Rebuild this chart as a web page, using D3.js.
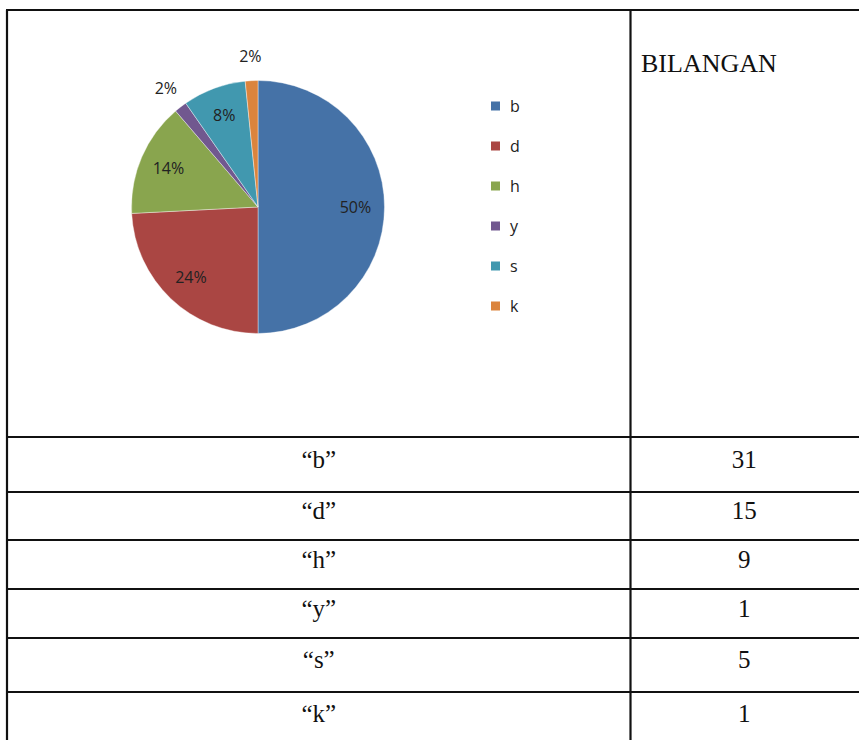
<!DOCTYPE html>
<html>
<head>
<meta charset="utf-8">
<script src="https://cdn.jsdelivr.net/npm/d3@7"></script>
<style>
  html, body { margin: 0; padding: 0; background: #fff; }
  svg { display: block; }
</style>
</head>
<body>
<div id="chart"></div>
<script>
// data
const categories = ['b', 'd', 'h', 'y', 's', 'k'];
const counts = [31, 15, 9, 1, 5, 1];
const pctLabels = ['50%', '24%', '14%', '2%', '8%', '2%'];
const headerLabel = 'BILANGAN';
const colors = ['#4572A7', '#AA4643', '#89A54E', '#71588F', '#4198AF', '#DB843D'];

const W = 859, H = 740;
const svg = d3.select('#chart').append('svg')
    .attr('width', W)
    .attr('height', H);

// table layout
const tableLeft = 7, tableTop = 10, colSplit = 630.5, tableRight = 862;
const rowEdges = [437, 492, 540, 589, 638, 692, 746];

const grid = svg.append('g').attr('stroke', '#111').attr('stroke-width', 2.2);
grid.append('line').attr('x1', tableLeft - 1).attr('x2', tableRight).attr('y1', tableTop).attr('y2', tableTop);
grid.append('line').attr('x1', tableLeft).attr('x2', tableLeft).attr('y1', tableTop).attr('y2', H + 5);
grid.append('line').attr('x1', colSplit).attr('x2', colSplit).attr('y1', tableTop).attr('y2', H + 5);
grid.selectAll('.row-line')
    .data(rowEdges.slice(0, -1))
    .join('line')
    .attr('class', 'row-line')
    .attr('x1', tableLeft).attr('x2', tableRight)
    .attr('y1', d => d).attr('y2', d => d);

svg.append('text')
    .attr('x', 641)
    .attr('y', 72)
    .attr('font-family', '"Liberation Serif", "Times New Roman", serif')
    .attr('font-size', '26px')
    .attr('fill', '#111')
    .text(headerLabel);

const rows = svg.append('g')
    .attr('font-family', '"Liberation Serif", "Times New Roman", serif')
    .attr('font-size', '25px')
    .attr('fill', '#111')
    .attr('text-anchor', 'middle');

categories.forEach((c, i) => {
    const yMid = (rowEdges[i] + rowEdges[i + 1]) / 2;
    rows.append('text')
        .attr('x', (tableLeft + colSplit) / 2)
        .attr('y', yMid + 3)
        .text('\u201C' + c + '\u201D');
    rows.append('text')
        .attr('x', (colSplit + 858) / 2)
        .attr('y', yMid + 3)
        .text(counts[i]);
});

// pie
const cx = 258, cy = 207, radius = 126.5;
const color = d3.scaleOrdinal().domain(categories).range(colors);

const pie = d3.pie().sort(null).value(d => d.value);
const arcs = pie(categories.map((c, i) => ({ key: c, value: counts[i], label: pctLabels[i] })));

const arc = d3.arc().innerRadius(0).outerRadius(radius);
const inLabel = d3.arc().innerRadius(radius * 0.77).outerRadius(radius * 0.77);
const outLabel = d3.arc().innerRadius(radius * 1.19).outerRadius(radius * 1.19);

const pg = svg.append('g').attr('transform', `translate(${cx},${cy})`);

pg.selectAll('path')
    .data(arcs)
    .join('path')
    .attr('d', arc)
    .attr('fill', d => color(d.data.key))
    .attr('stroke', '#fff')
    .attr('stroke-width', 0.4);

pg.selectAll('text')
    .data(arcs)
    .join('text')
    .attr('transform', d => {
        const small = (d.endAngle - d.startAngle) < 0.2;
        const p = (small ? outLabel : inLabel).centroid(d);
        return `translate(${p[0]},${p[1]})`;
    })
    .attr('text-anchor', 'middle')
    .attr('dy', '0.35em')
    .attr('font-family', '"Open Sans", "Noto Sans", sans-serif')
    .attr('font-size', '16px')
    .attr('fill', '#222')
    .text(d => d.data.label);

// legend
const legend = svg.append('g').attr('transform', 'translate(491,106)');
const li = legend.selectAll('g')
    .data(categories)
    .join('g')
    .attr('transform', (d, i) => `translate(0,${i * 40})`);
li.append('rect')
    .attr('x', 0).attr('y', -4.5)
    .attr('width', 9).attr('height', 9)
    .attr('fill', d => color(d));
li.append('text')
    .attr('x', 19)
    .attr('y', 0)
    .attr('dy', '0.35em')
    .attr('font-family', '"Open Sans", "Noto Sans", sans-serif')
    .attr('font-size', '16px')
    .attr('fill', '#222')
    .text(d => d);
</script>
</body>
</html>
